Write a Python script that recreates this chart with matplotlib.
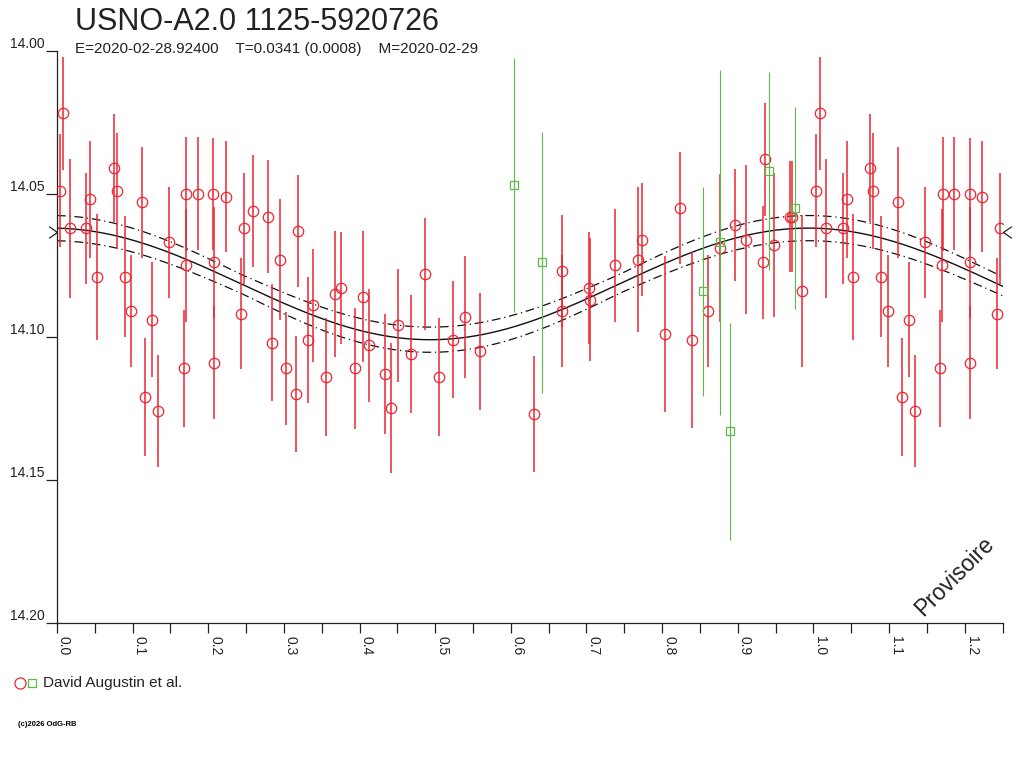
import numpy as np
import matplotlib
matplotlib.use("Agg")
import matplotlib.pyplot as plt
from matplotlib.ticker import MultipleLocator, FormatStrFormatter
from matplotlib.path import Path

plt.rcParams['font.family'] = ['Liberation Sans', 'DejaVu Sans']

# ---- data (phase, magnitude, error) ----
red_phase = [0.004, 0.0084, 0.017, 0.039, 0.044, 0.053, 0.0754, 0.0794, 0.090, 0.098,
             0.112, 0.117, 0.126, 0.134, 0.148, 0.168, 0.170, 0.171, 0.186, 0.2065,
             0.2070, 0.2075, 0.223, 0.243, 0.247, 0.259, 0.279, 0.284, 0.295, 0.303,
             0.316, 0.319, 0.332, 0.338, 0.356, 0.368, 0.376, 0.394, 0.405, 0.413,
             0.433, 0.441, 0.451, 0.468, 0.487, 0.505, 0.523, 0.540, 0.559, 0.631,
             0.667, 0.668, 0.703, 0.704, 0.738, 0.7676, 0.774, 0.804, 0.824, 0.840,
             0.860, 0.876, 0.897, 0.911, 0.933, 0.936, 0.948, 0.9696, 0.9715, 0.9846]
red_mag = [14.0489, 14.0219, 14.062, 14.062, 14.052, 14.079, 14.041, 14.049, 14.079, 14.091,
           14.053, 14.121, 14.094, 14.126, 14.067, 14.111, 14.075, 14.050, 14.050, 14.050,
           14.074, 14.109, 14.051, 14.092, 14.062, 14.056, 14.058, 14.102, 14.073, 14.111,
           14.120, 14.063, 14.101, 14.089, 14.114, 14.085, 14.083, 14.111, 14.086, 14.103,
           14.113, 14.125, 14.096, 14.106, 14.078, 14.114, 14.101, 14.093, 14.105, 14.127,
           14.077, 14.091, 14.083, 14.087, 14.075, 14.073, 14.066, 14.099, 14.055, 14.101,
           14.091, 14.069, 14.061, 14.066, 14.074, 14.038, 14.068, 14.058, 14.058, 14.084]
red_err = [0.0197, 0.0198, 0.0243, 0.0194, 0.0204, 0.0220, 0.0190, 0.0202, 0.0211, 0.0195,
           0.0195, 0.0206, 0.0202, 0.0195, 0.0195, 0.0204, 0.0197, 0.0200, 0.0197, 0.0195,
           0.0195, 0.0197, 0.0195, 0.0194, 0.0194, 0.0197, 0.0197, 0.0204, 0.0210, 0.0197,
           0.0204, 0.0197, 0.0220, 0.0197, 0.0206, 0.0220, 0.0195, 0.0211, 0.0229, 0.0197,
           0.0211, 0.0227, 0.0197, 0.0206, 0.0195, 0.0206, 0.0204, 0.0213, 0.0204, 0.0204,
           0.0197, 0.0197, 0.0195, 0.0215, 0.0197, 0.0252, 0.0197, 0.0274, 0.0195, 0.0307,
           0.0195, 0.0258, 0.0195, 0.0260, 0.0197, 0.0197, 0.0251, 0.0195, 0.0195, 0.0267]

green_phase = [0.6045, 0.641, 0.8545, 0.8765, 0.8898, 0.941, 0.9757]
green_mag = [14.047, 14.074, 14.084, 14.067, 14.133, 14.042, 14.055]
green_err = [0.0443, 0.0457, 0.0365, 0.0602, 0.0380, 0.0347, 0.0353]

# fitted light-curve parameters
fit_mean = 14.0815
fit_amp = 0.0195
fit_phase0 = 0.9935
band_base = 0.0033
band_amp = 0.0011
edge_marker_mag = 14.0635

title = "USNO-A2.0 1125-5920726"
subtitle = "E=2020-02-28.92400    T=0.0341 (0.0008)    M=2020-02-29"
legend_label = "David Augustin et al."
x_ticks = [0.0, 0.1, 0.2, 0.3, 0.4, 0.5, 0.6, 0.7, 0.8, 0.9, 1.0, 1.1, 1.2]
y_ticks = [14.00, 14.05, 14.10, 14.15, 14.20]

RED = "#ee2530"
GREEN = "#5cbb48"
AXC = "#222222"

fig = plt.figure(figsize=(10.24, 7.68), dpi=100)
ax = fig.add_axes([57/1024, 1-623/768, (1002.5-57)/1024, (623-50.7)/768])
ax.set_xlim(0, 1.25)
ax.set_ylim(14.20, 14.00)

# fit curve and band
ph = np.linspace(0, 1.25, 600)
c = np.cos(2*np.pi*(ph - fit_phase0))
fit = fit_mean - fit_amp*c
band = band_base + band_amp*np.abs(c)
ax.plot(ph, fit, color="#111111", lw=1.0, zorder=2)
ax.plot(ph, fit - band, color="#111111", lw=0.9, ls=(0, (7, 3, 1, 3)), zorder=2)
ax.plot(ph, fit + band, color="#111111", lw=0.9, ls=(0, (7, 3, 1, 3)), zorder=2)

def extend(p, m, e):
    p = np.asarray(p); m = np.asarray(m); e = np.asarray(e)
    sel = p + 1 <= 1.25
    return (np.concatenate([p, p[sel] + 1]), np.concatenate([m, m[sel]]),
            np.concatenate([e, e[sel]]))

rp, rm, re_ = extend(red_phase, red_mag, red_err)
gp, gm, ge = extend(green_phase, green_mag, green_err)

ax.errorbar(rp, rm, yerr=re_, fmt='none', ecolor=RED, elinewidth=1.1, capsize=0, zorder=3)
ax.plot(rp, rm, 'o', mfc='none', mec=RED, ms=7.5, mew=0.9, zorder=4)
ax.errorbar(gp, gm, yerr=ge, fmt='none', ecolor=GREEN, elinewidth=0.8, capsize=0, zorder=5)
ax.plot(gp, gm, 's', mfc='none', mec=GREEN, ms=5.5, mew=0.9, zorder=6)

# chevron markers at the edges
right_chev = Path([(-1, 0.7), (0, 0), (-1, -0.7)], [Path.MOVETO, Path.LINETO, Path.LINETO])
left_chev = Path([(1, 0.7), (0, 0), (1, -0.7)], [Path.MOVETO, Path.LINETO, Path.LINETO])
ax.plot([0], [edge_marker_mag], marker=right_chev, color=AXC, ms=12, mfc='none',
        mew=0.9, clip_on=False, zorder=7)
ax.plot([1.25], [edge_marker_mag], marker=left_chev, color=AXC, ms=12, mfc='none',
        mew=0.9, clip_on=False, zorder=7)

# axes styling
for s in ['top', 'right']:
    ax.spines[s].set_visible(False)
for s in ['left', 'bottom']:
    ax.spines[s].set_color(AXC)
    ax.spines[s].set_linewidth(0.9)
ax.set_xticks(x_ticks)
ax.xaxis.set_minor_locator(MultipleLocator(0.05))
ax.xaxis.set_major_formatter(FormatStrFormatter('%.1f'))
ax.set_yticks(y_ticks)
ax.yaxis.set_major_formatter(FormatStrFormatter('%.2f'))
ax.tick_params(axis='x', which='both', direction='out', length=7, width=0.9,
               color=AXC, labelsize=10, labelcolor=AXC, pad=2)
ax.tick_params(axis='y', which='major', direction='out', length=8, width=0.9,
               color=AXC, labelsize=10, labelcolor=AXC, pad=1)
for lab in ax.get_xticklabels():
    lab.set_rotation(270)
    lab.set_ha('left')
    lab.set_va('top')
for lab in ax.get_yticklabels():
    lab.set_va('bottom')

# texts
fig.text(75/1024, 1-29.5/768, title, fontsize=22, color=AXC, va='baseline', ha='left')
fig.text(75/1024, 1-53.5/768, subtitle, fontsize=11, color=AXC, va='baseline', ha='left')
fig.text(955/1024, 1-576/768, "Provisoire", fontsize=16.5, rotation=45, color=AXC,
         ha='center', va='center')

# legend
fig.lines.append(plt.Line2D([20/1024], [1-683/768], marker='o', mfc='none', mec=RED,
                            ms=8, mew=0.9, transform=fig.transFigure, figure=fig))
fig.lines.append(plt.Line2D([32/1024], [1-683/768], marker='s', mfc='none', mec=GREEN,
                            ms=5.5, mew=0.9, transform=fig.transFigure, figure=fig))
fig.text(43/1024, 1-683/768, legend_label, fontsize=11, color=AXC, va='center', ha='left')
fig.text(18/1024, 1-725/768, "(c)2026 OdG-RB", fontsize=5.5, color='black',
         fontweight='bold', va='center', ha='left')

fig.savefig("out.png", dpi=100)
